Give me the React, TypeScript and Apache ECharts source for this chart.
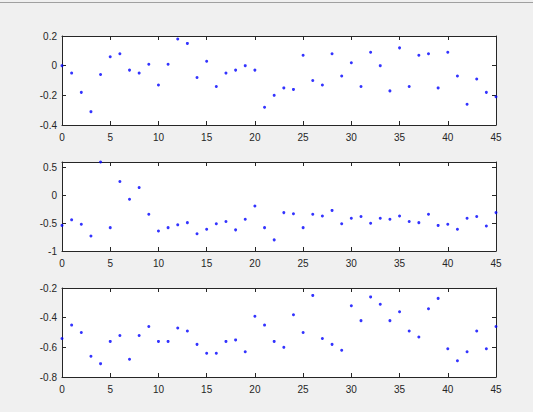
import React, { useEffect, useRef } from "react";
import * as echarts from "echarts";

const xValues: number[] = Array.from({ length: 46 }, (_, i) => i);

const series1: number[] = [
  0.0, -0.05, -0.18, -0.31, -0.06, 0.06, 0.08, -0.03, -0.05, 0.01,
  -0.13, 0.01, 0.18, 0.15, -0.08, 0.03, -0.14, -0.05, -0.03, 0.0,
  -0.03, -0.28, -0.2, -0.15, -0.16, 0.07, -0.1, -0.13, 0.08, -0.07,
  0.02, -0.14, 0.09, 0.0, -0.17, 0.12, -0.14, 0.07, 0.08, -0.15,
  0.09, -0.07, -0.26, -0.09, -0.18, -0.21,
];

const series2: number[] = [
  -0.54, -0.44, -0.52, -0.73, 0.6, -0.58, 0.25, -0.07, 0.14, -0.34,
  -0.64, -0.58, -0.53, -0.49, -0.69, -0.61, -0.51, -0.47, -0.62, -0.43,
  -0.19, -0.58, -0.8, -0.31, -0.33, -0.58, -0.34, -0.37, -0.27, -0.51,
  -0.41, -0.38, -0.5, -0.41, -0.43, -0.37, -0.47, -0.49, -0.34, -0.54,
  -0.52, -0.61, -0.41, -0.38, -0.55, -0.31,
];

const series3: number[] = [
  -0.54, -0.45, -0.5, -0.66, -0.71, -0.56, -0.52, -0.68, -0.52, -0.46,
  -0.56, -0.56, -0.47, -0.49, -0.58, -0.64, -0.64, -0.56, -0.55, -0.63,
  -0.39, -0.45, -0.56, -0.6, -0.38, -0.5, -0.25, -0.54, -0.58, -0.62,
  -0.32, -0.42, -0.26, -0.31, -0.42, -0.36, -0.49, -0.53, -0.34, -0.27,
  -0.61, -0.69, -0.63, -0.49, -0.61, -0.46,
];

const yRanges: { min: number; max: number; interval: number }[] = [
  { min: -0.4, max: 0.2, interval: 0.2 },
  { min: -1, max: 0.6, interval: 0.5 },
  { min: -0.8, max: -0.2, interval: 0.2 },
];

const xMin = 0;
const xMax = 45;
const xInterval = 5;

export default function App() {
  const ref = useRef<HTMLDivElement>(null);

  useEffect(() => {
    if (!ref.current) return;
    const chart = echarts.init(ref.current, undefined, { renderer: "svg" });
    const allSeries = [series1, series2, series3];
    const tops = [36, 162, 288];
    const h = 89;
    const axisColor = "#262626";
    const fontFamily = "Liberation Sans, Arial, sans-serif";

    const grids: any[] = [];
    const xAxes: any[] = [];
    const yAxes: any[] = [];
    const seriesOpts: any[] = [];

    const fmt = (interval: number) => (v: number) => {
      const k = Math.round(v / interval);
      if (Math.abs(k * interval - v) > 1e-6) return "";
      const r = Math.round(v * 1000) / 1000;
      return String(r);
    };

    allSeries.forEach((data, i) => {
      grids.push({
        left: 62,
        right: 37,
        top: tops[i],
        height: h,
        show: true,
        backgroundColor: "#ffffff",
        borderWidth: 0,
      });
      const yr = yRanges[i];
      const baseX = {
        type: "value",
        gridIndex: i,
        min: xMin,
        max: xMax,
        interval: xInterval,
        splitLine: { show: false },
        axisLine: { show: true, onZero: false, lineStyle: { color: axisColor, width: 1 } },
        axisTick: { show: true, inside: true, length: 4, lineStyle: { color: axisColor } },
      };
      xAxes.push({
        ...baseX,
        position: "bottom",
        axisLabel: {
          show: true,
          color: axisColor,
          fontSize: 10,
          fontFamily,
          margin: 7,
          formatter: fmt(xInterval),
        },
      });
      xAxes.push({
        ...baseX,
        position: "top",
        axisLabel: { show: false },
      });
      const baseY = {
        type: "value",
        gridIndex: i,
        min: yr.min,
        max: yr.max,
        interval: yr.interval,
        splitLine: { show: false },
        axisLine: { show: true, onZero: false, lineStyle: { color: axisColor, width: 1 } },
        axisTick: { show: true, inside: true, length: 4, lineStyle: { color: axisColor } },
      };
      yAxes.push({
        ...baseY,
        position: "left",
        axisLabel: {
          show: true,
          color: axisColor,
          fontSize: 10,
          fontFamily,
          margin: 5,
          formatter: fmt(yr.interval),
        },
      });
      yAxes.push({
        ...baseY,
        position: "right",
        axisLabel: { show: false },
      });
      seriesOpts.push({
        type: "scatter",
        xAxisIndex: i * 2,
        yAxisIndex: i * 2,
        symbol: "circle",
        symbolSize: 3,
        itemStyle: { color: "#0000ff" },
        clip: false,
        data: data.map((v, j) => [xValues[j], v]),
      });
    });

    chart.setOption({
      animation: false,
      backgroundColor: "#f0f0f0",
      grid: grids,
      xAxis: xAxes,
      yAxis: yAxes,
      series: seriesOpts,
      graphic: [
        {
          type: "rect",
          shape: { x: 0, y: 2, width: 533, height: 1 },
          style: { fill: "#a0a0a0" },
          silent: true,
        },
      ],
    });

    return () => chart.dispose();
  }, []);

  return (
    <div
      ref={ref}
      style={{ position: "fixed", left: 0, top: 0, width: 533, height: 412 }}
    />
  );
}
